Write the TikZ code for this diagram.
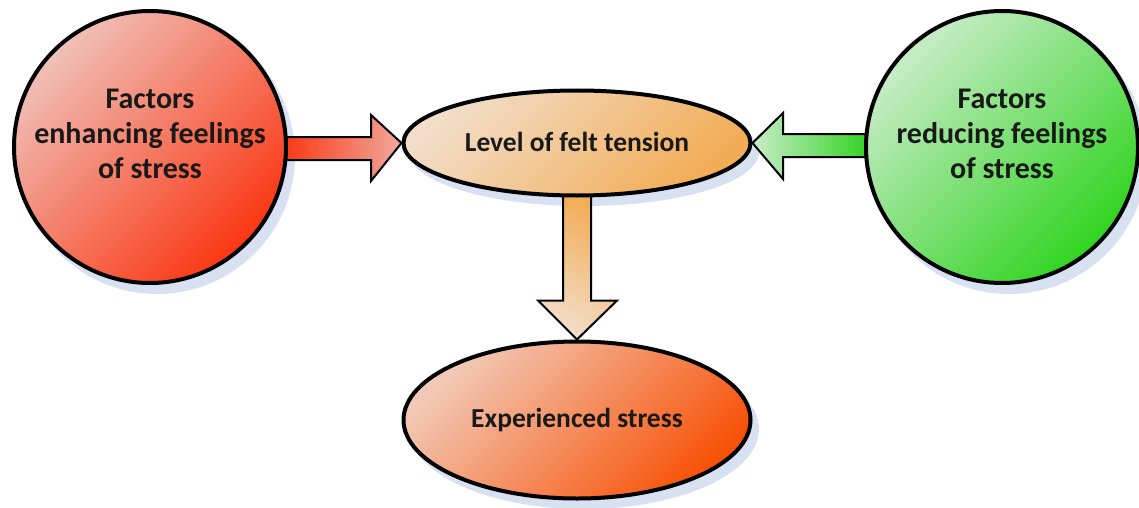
\documentclass[tikz,border=0pt]{standalone}
\usepackage{fontspec}
\setmainfont{Carlito}
\usetikzlibrary{calc,shapes.geometric}
\pgfdeclarelayer{shadowlayer}
\pgfdeclarelayer{arrowlayer}
\pgfsetlayers{shadowlayer,arrowlayer,main}
\definecolor{shadowblue}{HTML}{D8E1F1}
\definecolor{redA}{HTML}{F0C0B8}
\definecolor{redB}{HTML}{F54C30}
\definecolor{redC}{HTML}{FA3612}
\definecolor{grnA}{HTML}{C8ECC8}
\definecolor{grnB}{HTML}{55D948}
\definecolor{grnC}{HTML}{30D420}
\definecolor{orA}{HTML}{F2DDC8}
\definecolor{orB}{HTML}{F2BA70}
\definecolor{orC}{HTML}{F2AC55}
\definecolor{stA}{HTML}{F2C9B6}
\definecolor{stB}{HTML}{F47038}
\definecolor{stC}{HTML}{F85208}
\tikzset{
  blob/.style={draw=black, line width=4pt, align=center, inner sep=0pt, text=black!90},
  bigtext/.style={align=center, inner sep=0pt, text=black!90, font=\fontsize{30}{35}\selectfont\bfseries},
  ovaltext/.style={font=\fontsize{27.5}{33}\selectfont\bfseries},
  redfill/.style={top color=redA, middle color=redB, bottom color=redC, shading angle=45},
  grnfill/.style={top color=grnA, middle color=grnB, bottom color=grnC, shading angle=45},
  orfill/.style={top color=orA, middle color=orB, bottom color=orC, shading angle=45},
  stfill/.style={top color=stA, middle color=stB, bottom color=stC, shading angle=45},
  blockarrow/.style={draw=black, line width=2pt, line join=miter},
  shadowfill/.style={fill=shadowblue}
}
\begin{document}
\begin{tikzpicture}[x=1pt,y=-1pt]
\useasboundingbox (0,0) rectangle (1139,508);
% nodes
\node[blob, circle, minimum size=272pt, redfill,
  label={[bigtext, yshift=13pt]center:Factors\\enhancing feelings\\of stress}] (L) at (150,147) {};
\node[blob, circle, minimum size=272pt, grnfill,
  label={[bigtext, yshift=13pt]center:Factors\\reducing feelings\\of stress}] (R) at (1002,147) {};
\node[blob, ellipse, ovaltext, minimum width=347pt, minimum height=105pt, orfill] (M) at (577,143) {\raisebox{3pt}{Level of felt tension}};
\node[blob, ellipse, ovaltext, minimum width=347pt, minimum height=157pt, stfill] (B) at (577,420) {Experienced stress};
% shadows
\begin{pgfonlayer}{shadowlayer}
  \fill[shadowfill] ($(L.center)+(7,9)$) circle[radius=138];
  \fill[shadowfill] ($(R.center)+(7,9)$) circle[radius=138];
  \fill[shadowfill] ($(M.center)+(7,9)$) ellipse[x radius=175, y radius=54];
  \fill[shadowfill] ($(B.center)+(7,9)$) ellipse[x radius=175, y radius=80];
\end{pgfonlayer}
% block arrows
\begin{pgfonlayer}{arrowlayer}
  \draw[blockarrow, left color=redC, right color=redA!80!redB]
    ($(L.east)+(-6,-10)$) -- ++(89,0) -- ++(0,-22) -- (M.west) -- ($(L.east)+(83,34)$) -- ++(0,-21) -- ($(L.east)+(-6,13)$);
  \draw[blockarrow, right color=grnC, left color=grnA]
    ($(R.west)+(6,-13)$) -- ++(-87,0) -- ++(0,-21) -- (M.east) -- ($(R.west)+(-81,32)$) -- ++(0,-22) -- ($(R.west)+(6,10)$);
  \draw[blockarrow, top color=orC, bottom color=orA, shading angle=-30]
    ($(M.south)+(-14,-4)$) -- ++(0,107) -- ++(-25,0) -- (B.north) -- ($(M.south)+(40,103)$) -- ++(-26,0) -- ($(M.south)+(14,-4)$);
\end{pgfonlayer}
\end{tikzpicture}
\end{document}
